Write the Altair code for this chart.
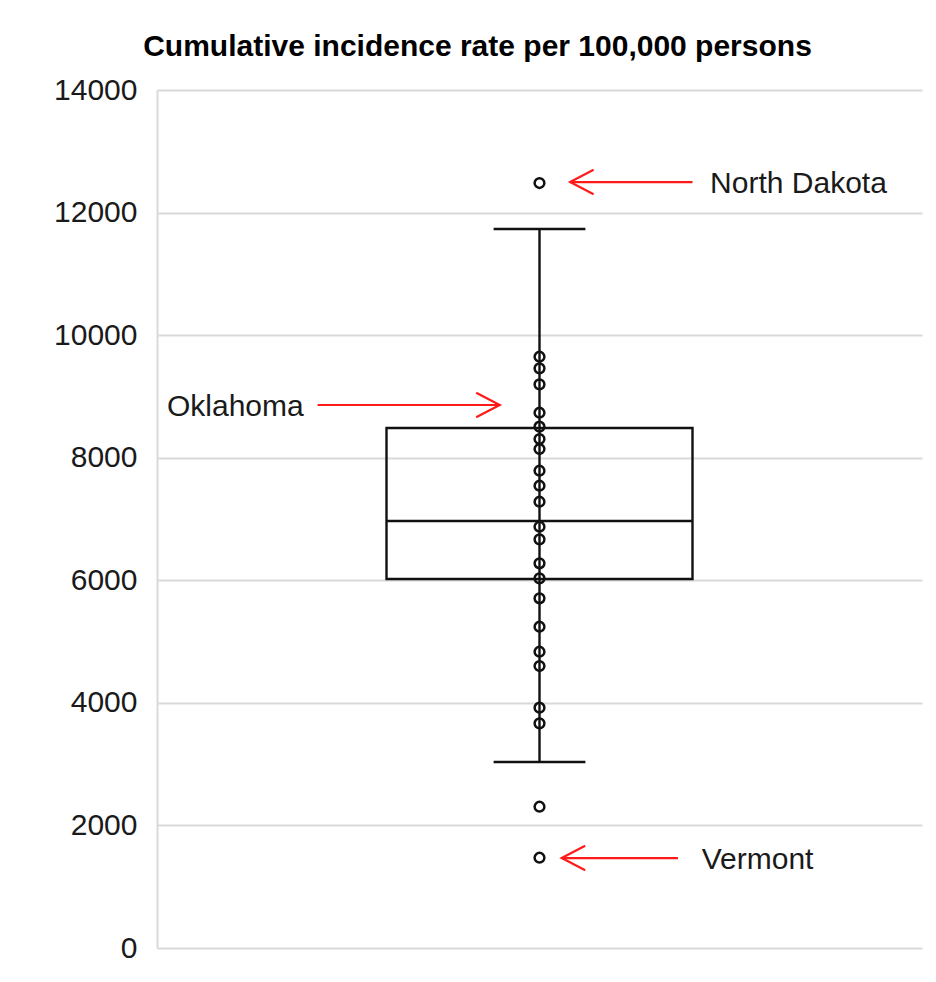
import altair as alt
import pandas as pd

# ---- data ----
point_values = [12482, 9648, 9458, 9197, 8734, 8506, 8305, 8142, 7788, 7543, 7282,
                6874, 6668, 6277, 6032, 5706, 5242, 4834, 4601, 3921, 3666, 2305, 1473]
box_q1 = 6020
box_median = 6967
box_q3 = 8484
whisker_low = 3035
whisker_high = 11731

ann_labels = ["North Dakota", "Oklahoma", "Vermont"]
ann_values = [12498, 8860, 1468]
ann_tip_x = [0.54, 0.448, 0.529]
ann_tail_x = [0.70, 0.21, 0.681]
ann_label_x = [0.723, 0.013, 0.712]
ann_dir = ["left", "right", "left"]

y_ticks = [0, 2000, 4000, 6000, 8000, 10000, 12000, 14000]

FONT = "Liberation Sans"

pts = pd.DataFrame({"x": [0.5] * len(point_values), "v": point_values})
box = pd.DataFrame({"x0": [0.3], "x1": [0.7], "xc": [0.5],
                    "q1": [box_q1], "med": [box_median], "q3": [box_q3],
                    "lo": [whisker_low], "hi": [whisker_high]})
caps = pd.DataFrame({"c0": [0.44, 0.44], "c1": [0.56, 0.56], "v": [whisker_low, whisker_high]})
ann = pd.DataFrame({"label": ann_labels, "v": ann_values, "tip": ann_tip_x,
                    "tail": ann_tail_x, "lx": ann_label_x, "dir": ann_dir})

xs = alt.Scale(domain=[0, 1])
ys = alt.Scale(domain=[0, 14000], nice=False)

yaxis = alt.Axis(values=y_ticks, format="d", title=None, ticks=False, labelPadding=20,
                 labelFontSize=30, labelFont=FONT, labelColor="#1a1a1a",
                 grid=True, gridColor="#d9d9d9", gridWidth=2,
                 domain=True, domainColor="#d9d9d9", domainWidth=2)


def X(field):
    return alt.X(field, scale=xs, axis=None)


def Y(field, axis=None):
    return alt.Y(field, scale=ys, axis=axis)


INK = "#111111"
LW = 2.4
base_box = alt.Chart(box)

whisker = base_box.mark_rule(color=INK, strokeWidth=LW).encode(
    x=X("xc:Q"), y=Y("lo:Q", yaxis), y2="hi:Q")
rect = base_box.mark_rect(fill="white", fillOpacity=0, stroke=INK, strokeWidth=LW).encode(
    x=X("x0:Q"), x2="x1:Q", y=Y("q1:Q", yaxis), y2="q3:Q")
median = base_box.mark_rule(color=INK, strokeWidth=LW).encode(
    x=X("x0:Q"), x2="x1:Q", y=Y("med:Q", yaxis))
cap_rules = alt.Chart(caps).mark_rule(color=INK, strokeWidth=LW).encode(
    x=X("c0:Q"), x2="c1:Q", y=Y("v:Q", yaxis))
points = alt.Chart(pts).mark_point(shape="circle", filled=False, color=INK,
                                   strokeWidth=2.5, size=95, opacity=1).encode(
    x=X("x:Q"), y=Y("v:Q", yaxis))

RED = "#ff1a1a"
shafts = alt.Chart(ann).mark_rule(color=RED, strokeWidth=2.2).encode(
    x=X("tip:Q"), x2="tail:Q", y=Y("v:Q", yaxis))
head_left = alt.Chart(ann).transform_filter(alt.datum.dir == "left").mark_point(
    shape="M1,-0.52L0,0L1,0.52", filled=False, color=RED, strokeWidth=2.2,
    size=2209, opacity=1).encode(x=X("tip:Q"), y=Y("v:Q", yaxis))
head_right = alt.Chart(ann).transform_filter(alt.datum.dir == "right").mark_point(
    shape="M-1,-0.52L0,0L-1,0.52", filled=False, color=RED, strokeWidth=2.2,
    size=2209, opacity=1).encode(x=X("tip:Q"), y=Y("v:Q", yaxis))
labels = alt.Chart(ann).mark_text(align="left", baseline="middle", fontSize=30,
                                  font=FONT, color="#1a1a1a", dy=2).encode(
    x=X("lx:Q"), y=Y("v:Q", yaxis), text="label:N")

chart = alt.layer(whisker, rect, median, cap_rules, points, shafts, head_left,
                  head_right, labels).properties(
    width=765, height=858,
    background="white",
    title=alt.TitleParams("Cumulative incidence rate per 100,000 persons",
                          fontSize=30, font=FONT, fontWeight="bold", color="black",
                          anchor="middle", dx=-62, offset=13),
    autosize=alt.AutoSizeParams(type="none"),
    padding={"left": 149, "top": 82, "right": 6, "bottom": 26},
).configure_view(strokeWidth=0, stroke=None)

chart.save("out.html", embed_options={"renderer": "svg", "actions": False})
